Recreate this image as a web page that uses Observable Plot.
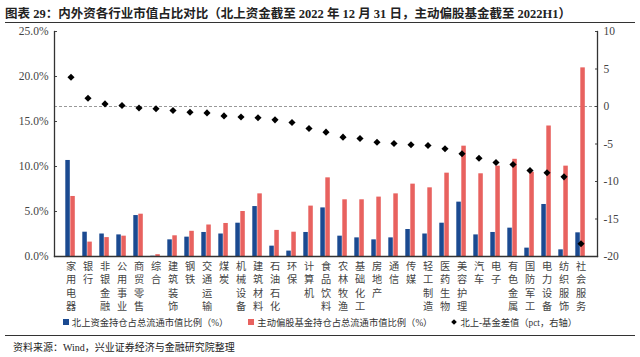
<!DOCTYPE html>
<html><head><meta charset="utf-8">
<script src="https://cdn.jsdelivr.net/npm/d3@7"></script>
<script src="https://cdn.jsdelivr.net/npm/@observablehq/plot@0.6"></script>
<style>
body{margin:0;background:#fff;width:640px;height:357px;overflow:hidden;position:relative;font-family:"Liberation Serif","Noto Sans CJK SC",serif;color:#222;}
#title{position:absolute;left:5px;top:3px;font-size:12.5px;font-weight:bold;white-space:nowrap;font-family:"Liberation Serif","Noto Sans CJK SC",serif;}
.hr{position:absolute;left:5px;width:630px;height:0;border-top:1.5px solid #333;}
#chart{position:absolute;left:0;top:24px;}
#legend{position:absolute;left:0;width:640px;top:315px;display:flex;justify-content:center;align-items:center;font-size:9.3px;font-family:"Liberation Serif","Noto Sans CJK SC",serif;color:#333;}
#legend .it{display:flex;align-items:center;margin:0 10px;}
#legend .sw{width:6px;height:6px;margin-right:3px;}
#legend .dm{width:4px;height:4px;background:#000;transform:rotate(45deg);margin-right:4px;}
#source{position:absolute;left:13px;top:339px;font-size:10px;white-space:nowrap;color:#222;}
</style></head><body>
<div id="title">图表 29：内外资各行业市值占比对比（北上资金截至 2022 年 12 月 31 日，主动偏股基金截至 2022H1）</div>
<div class="hr" style="top:22px"></div>
<div id="chart"></div>
<div id="legend"></div>
<div class="hr" style="top:335px"></div>
<div id="source">资料来源：Wind，兴业证券经济与金融研究院整理</div>
<script>
const categories = ["家用电器","银行","非银金融","公用事业","商贸零售","综合","建筑装饰","钢铁","交通运输","煤炭","机械设备","建筑材料","石油石化","环保","计算机","食品饮料","农林牧渔","基础化工","房地产","通信","传媒","轻工制造","医药生物","美容护理","汽车","电子","有色金属","国防军工","电力设备","纺织服饰","社会服务"];
const northbound = [10.67,2.7,2.5,2.4,4.55,0.03,1.85,2.15,2.67,2.5,3.7,5.55,1.15,0.6,2.67,5.4,2.26,2.07,1.85,2.07,3.0,2.5,3.7,6.04,2.4,2.67,3.15,0.93,5.78,0.74,2.63];
const fund = [6.67,1.6,2.1,2.26,4.7,0.2,2.3,2.8,3.5,3.67,5.0,6.96,2.9,2.7,5.6,8.74,6.3,6.3,6.6,6.96,8.04,7.63,9.26,12.26,9.19,10.04,10.8,9.37,14.5,10.04,20.96];
const diff = [3.9,1.1,0.35,0.13,-0.2,-0.3,-0.53,-0.76,-0.85,-1.25,-1.4,-1.5,-1.78,-2.13,-2.93,-3.42,-4.09,-4.27,-4.76,-4.93,-5.1,-5.2,-5.64,-6.3,-6.9,-7.47,-7.73,-8.53,-8.84,-9.38,-18.3];
const leftTicks = [0,5,10,15,20,25];
const rightTicks = [-20,-15,-10,-5,0,5,10];
const seriesNames = ["北上资金持仓占总流通市值比例（%）","主动偏股基金持仓占总流通市值比例（%）","北上-基金差值（pct，右轴）"];

const blue = "#1b4a91", red = "#e8625f";
const table = categories.map((c,i)=>({cat:c, north:northbound[i], fund:fund[i], diff:diff[i]}));
const toLeft = d3.scaleLinear([-20,10],[0,25]);
const serif = "'Liberation Serif','Noto Sans CJK SC',serif";

// one text element per character of the vertical category labels
const maxLen = d3.max(categories, c => [...c].length);
const labelMarks = d3.range(maxLen).map(k =>
  Plot.text(categories.filter(c => [...c].length > k), {
    x: d => d, frameAnchor: "bottom", lineAnchor: "top",
    dy: 6 + k * 13.4, text: d => [...d][k],
    fontSize: 10.2, fontFamily: "'Noto Sans CJK SC',sans-serif", fill: "#444"
  })
);

const plot = Plot.plot({
  width:640, height:290,
  marginLeft:54, marginRight:43, marginTop:7, marginBottom:58,
  x:{domain:categories, padding:0, axis:null},
  y:{domain:[0,25], axis:null},
  style:{fontFamily:serif, fontSize:"11.5px", background:"#fff", color:"#333"},
  marks:[
    Plot.ruleY([toLeft(0)], {stroke:"#999", strokeDasharray:"3,2"}),
    Plot.barY(table, {x:"cat", y:"north", fill:blue, insetLeft:3.3, insetRight:9.2}),
    Plot.barY(table, {x:"cat", y:"fund", fill:red, insetLeft:8.3, insetRight:4.2}),
    Plot.dot(table, {x:"cat", y:d=>toLeft(d.diff), symbol:"diamond2", r:3.2, fill:"#000", stroke:null}),
    Plot.axisY(leftTicks, {anchor:"left", tickFormat:d=>d.toFixed(1)+"%", tickSize:-3, tickPadding:9, fill:"#444", stroke:"#444"}),
    Plot.axisY(rightTicks.map(d=>toLeft(d)), {anchor:"right", tickFormat:d=>String(Math.round(toLeft.invert(d))), tickSize:-3, tickPadding:9, fill:"#444", stroke:"#444"}),
    ...labelMarks,
    Plot.frame({anchor:"left", stroke:"#333", strokeWidth:1.3}),
    Plot.frame({anchor:"right", stroke:"#333", strokeWidth:1.3}),
    Plot.frame({anchor:"bottom", stroke:"#333", strokeWidth:1.3})
  ]
});
document.getElementById("chart").appendChild(plot);

const lg = document.getElementById("legend");
const sw = [`<span class="sw" style="background:${blue}"></span>`,`<span class="sw" style="background:${red}"></span>`,`<span class="dm"></span>`];
seriesNames.forEach((n,i)=>{
  const d = document.createElement("div"); d.className="it";
  d.innerHTML = sw[i] + `<span>${n}</span>`;
  lg.appendChild(d);
});
</script>
</body></html>
